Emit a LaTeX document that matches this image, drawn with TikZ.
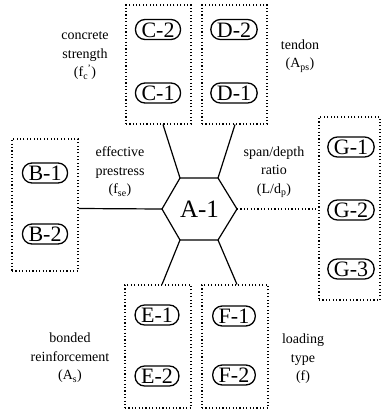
\documentclass[tikz,border=0pt]{standalone}
\usepackage{fontspec}
\setmainfont{Liberation Serif}
\begin{document}
\begin{tikzpicture}[x=1pt,y=-1pt,
  dotbox/.style={draw, line width=1.1pt, dash pattern=on 1.1pt off 2.3pt, inner sep=0pt},
  pill/.style={draw, line width=1.3pt, rounded corners=9.5pt, font=\fontsize{22}{22}\selectfont,
    text height=15pt, text depth=0pt, inner ysep=2.5pt, inner xsep=6pt},
  lab/.style={align=center, font=\fontsize{14}{18.5}\selectfont, inner sep=0pt},
  conn/.style={line width=1.2pt}]
\useasboundingbox (0,0) rectangle (381,410);
% dotted group boxes
\node[dotbox, minimum width=65pt, minimum height=119pt] (Cbox) at (158.5,64.5) {};
\node[dotbox, minimum width=65pt, minimum height=119pt] (Dbox) at (234.5,64.5) {};
\node[dotbox, minimum width=66pt, minimum height=132pt] (Bbox) at (45,205) {};
\node[dotbox, minimum width=61pt, minimum height=183pt] (Gbox) at (349.5,208.5) {};
\node[dotbox, minimum width=66pt, minimum height=123pt] (Ebox) at (158,346.5) {};
\node[dotbox, minimum width=66pt, minimum height=123pt] (Fbox) at (235,346.5) {};
% pills
\node[pill] (C2) at (158,29.5) {C-2};
\node[pill] (C1) at (158,93) {C-1};
\node[pill] (D2) at (234,29.5) {D-2};
\node[pill] (D1) at (234,93) {D-1};
\node[pill] (B1) at (45,173) {B-1};
\node[pill] (B2) at (45,234) {B-2};
\node[pill] (G1) at (351,147) {G-1};
\node[pill] (G2) at (351,210) {G-2};
\node[pill] (G3) at (351,269) {G-3};
\node[pill] (E1) at (157,315) {E-1};
\node[pill] (E2) at (157,376) {E-2};
\node[pill] (F1) at (234,316) {F-1};
\node[pill] (F2) at (234,375) {F-2};
% hexagon
\coordinate (hl) at (162,209);
\coordinate (htl) at (180,178);
\coordinate (htr) at (218,178);
\coordinate (hr) at (237,209);
\coordinate (hbr) at (218,240);
\coordinate (hbl) at (180,240);
\draw[conn, line join=miter] (hl) -- (htl) -- (htr) -- (hr) -- (hbr) -- (hbl) -- cycle;
\node[font=\fontsize{25}{25}\selectfont, inner sep=0pt] (A1) at (199.5,209) {A-1};
% connector ends on boxes
\coordinate (cC) at (Cbox.south -| 163,0);
\coordinate (cD) at (Dbox.south -| 235,0);
\coordinate (cB) at (Bbox.east |- 0,208.5);
\coordinate (cG) at (Gbox.west |- 0,209);
\coordinate (cE) at (Ebox.north -| 162,0);
\coordinate (cF) at (Fbox.north -| 237,0);
\draw[conn] (htl) -- (cC);
\draw[conn] (htr) -- (cD);
\draw[conn] (hl) -- (cB);
\draw[conn] (hbl) -- (cE);
\draw[conn] (hbr) -- (cF);
\draw[line width=1.1pt, dash pattern=on 1.1pt off 2.3pt] (hr) -- (cG);
% labels
\node[lab] (lC) at (85,56) {concrete\\strength\\(f\textsubscript{c}\textsuperscript{\kern-0.5pt'})};
\node[lab] (lD) at (300,56) {tendon\\(A\textsubscript{ps})};
\node[lab] (lB) at (120,172) {effective\\prestress\\(f\textsubscript{se})};
\node[lab] (lG) at (274,172) {span/depth\\ratio\\(L/d\textsubscript{p})};
\node[lab] (lE) at (70,358) {bonded\\reinforcement\\(A\textsubscript{s})};
\node[lab] (lF) at (303,359) {loading\\type\\(f)};
\end{tikzpicture}
\end{document}
